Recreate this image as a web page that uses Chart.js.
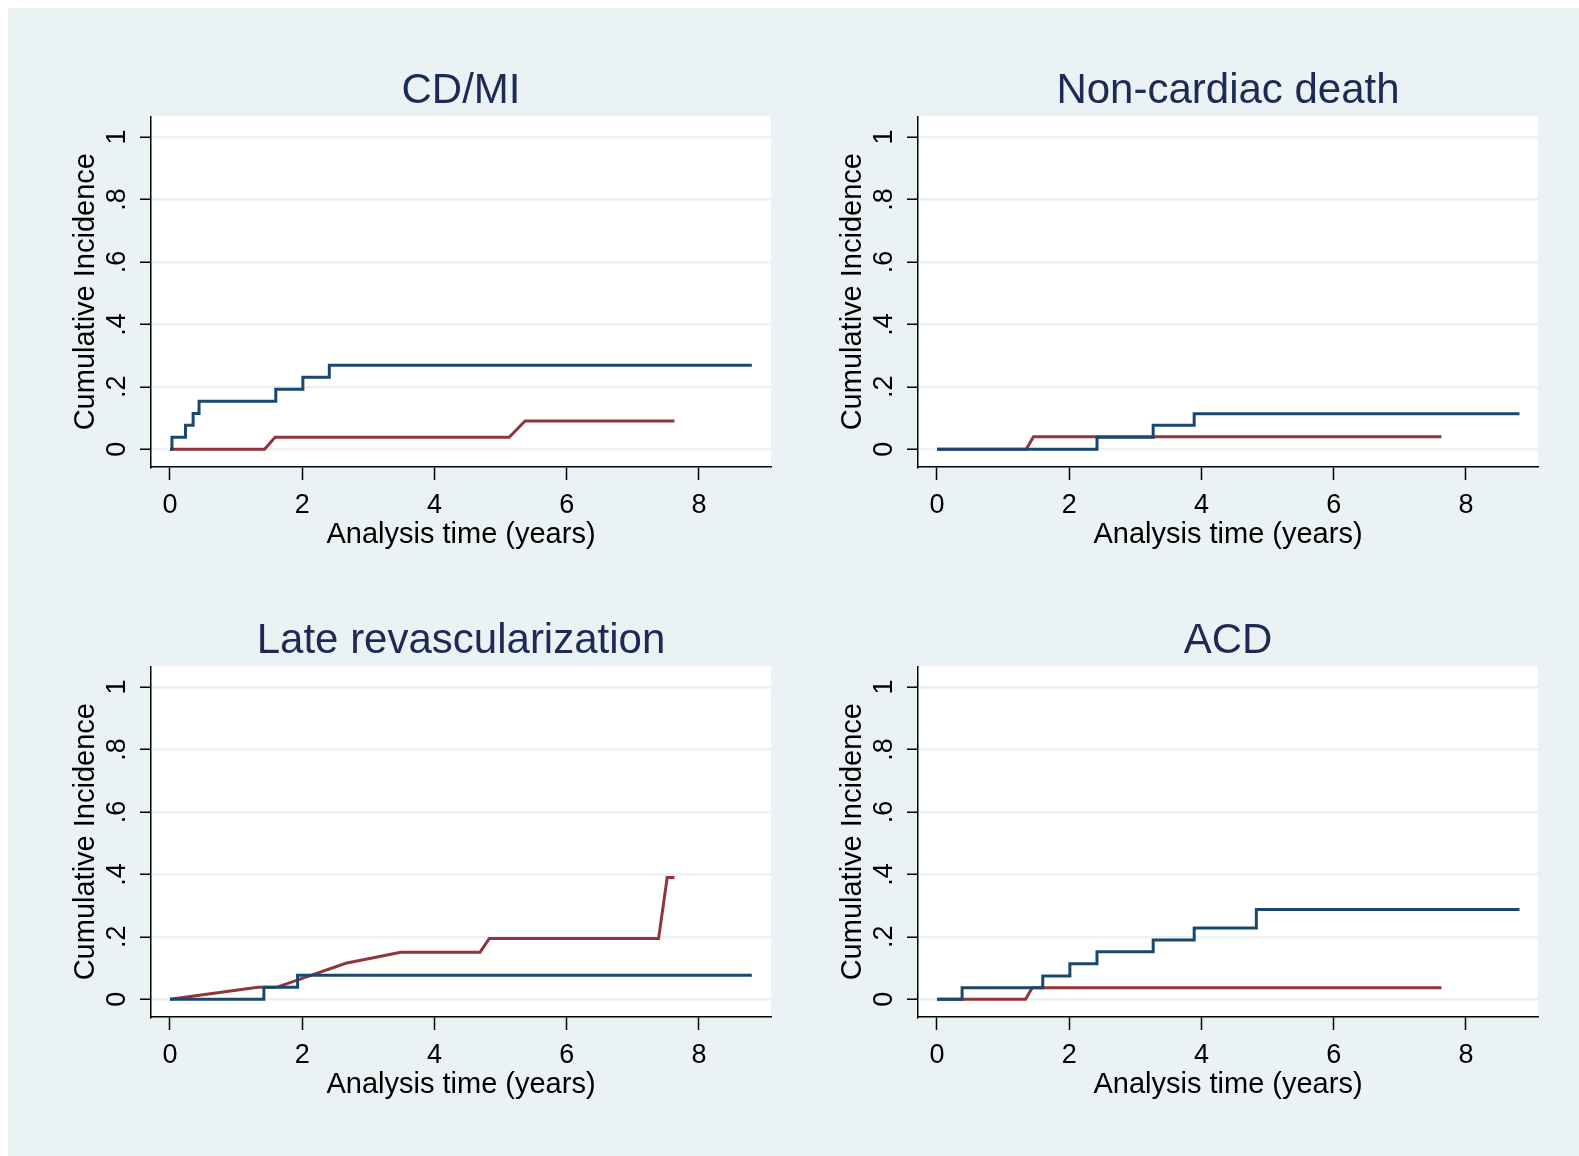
<!DOCTYPE html>
<html>
<head>
<meta charset="utf-8">
<script src="https://cdn.jsdelivr.net/npm/chart.js@4.4.1/dist/chart.umd.min.js"></script>
<style>
  html, body { margin: 0; padding: 0; background: #ffffff; }
  #page { position: absolute; left: 8px; top: 8px; width: 1571px; height: 1148px; background: #eaf2f3; }
  canvas { position: absolute; }
</style>
</head>
<body>
<div id="page"></div>
<canvas id="c1" width="780" height="552" style="left:0px;top:0px"></canvas>
<canvas id="c2" width="780" height="552" style="left:767px;top:0px"></canvas>
<canvas id="c3" width="780" height="552" style="left:0px;top:550px"></canvas>
<canvas id="c4" width="780" height="552" style="left:767px;top:550px"></canvas>
<script>
// panel titles
const titles = ["CD/MI", "Non-cardiac death", "Late revascularization", "ACD"];

// axis ticks
const xTicks = [0, 2, 4, 6, 8];
const yTicks = [0, 0.2, 0.4, 0.6, 0.8, 1];
const yTickLabels = ["0", ".2", ".4", ".6", ".8", "1"];

// blue curves (stepped): time in years, cumulative incidence
const blueT = [
  [0, 0.03, 0.235, 0.35, 0.44, 1.60, 2.01, 2.41, 8.80],
  [0, 2.42, 3.27, 3.89, 8.81],
  [0, 1.42, 1.93, 8.80],
  [0, 0.38, 1.60, 2.01, 2.42, 3.27, 3.89, 4.83, 8.81]
];
const blueY = [
  [0, 0.0385, 0.077, 0.115, 0.154, 0.192, 0.231, 0.269, 0.269],
  [0, 0.039, 0.077, 0.114, 0.114],
  [0, 0.0385, 0.077, 0.077],
  [0, 0.037, 0.075, 0.114, 0.152, 0.190, 0.228, 0.288, 0.288]
];

// red curves (joined)
const redT = [
  [0, 1.43, 1.59, 5.13, 5.37, 7.63],
  [0, 1.35, 1.46, 7.63],
  [0, 1.33, 1.61, 2.66, 3.49, 4.69, 4.83, 7.39, 7.52, 7.63],
  [0, 1.34, 1.44, 7.63]
];
const redY = [
  [0, 0, 0.0385, 0.0385, 0.091, 0.091],
  [0, 0, 0.040, 0.040],
  [0, 0.0385, 0.0385, 0.1155, 0.151, 0.151, 0.195, 0.195, 0.39, 0.39],
  [0, 0, 0.037, 0.037]
];

const FONT = "'Liberation Sans', Arial, Helvetica, sans-serif";
const blue = "#1a476f";
const red = "#90353b";
const bg = "#eaf2f3";

const plotBg = {
  id: "plotBg",
  beforeDraw(chart) {
    const a = chart.chartArea;
    const ctx = chart.ctx;
    ctx.save();
    ctx.fillStyle = "#ffffff";
    ctx.fillRect(a.left, a.top, a.right - a.left, a.bottom - a.top);
    ctx.restore();
  }
};

// stata style vertical tick labels on the y axis
const yLabels = {
  id: "yLabels",
  afterDraw(chart) {
    const s = chart.scales.y;
    const ctx = chart.ctx;
    ctx.save();
    ctx.font = "27px " + FONT;
    ctx.fillStyle = "#000";
    ctx.textAlign = "center";
    ctx.textBaseline = "middle";
    yTicks.forEach((v, i) => {
      const py = s.getPixelForValue(v);
      ctx.save();
      ctx.translate(118, py);
      ctx.rotate(-Math.PI / 2);
      ctx.fillText(yTickLabels[i], 0, 0);
      ctx.restore();
    });
    ctx.restore();
  }
};

const makePts = (ts, ys) => ts.map((t, i) => ({ x: t, y: ys[i] }));

for (let p = 0; p < 4; p++) {
  new Chart(document.getElementById("c" + (p + 1)), {
    type: "line",
    data: {
      datasets: [
        {
          data: makePts(blueT[p], blueY[p]),
          borderColor: blue,
          borderWidth: 3,
          stepped: "before",
          pointRadius: 0,
          fill: false
        },
        {
          data: makePts(redT[p], redY[p]),
          borderColor: red,
          borderWidth: 3,
          tension: 0,
          pointRadius: 0,
          fill: false
        }
      ]
    },
    options: {
      responsive: false,
      animation: false,
      devicePixelRatio: 1,
      layout: { padding: { top: 66, right: 9, left: 0, bottom: 0 } },
      plugins: {
        legend: { display: false },
        tooltip: { enabled: false },
        title: {
          display: true,
          text: titles[p],
          fullSize: false,
          color: "#1c2b55",
          font: { family: FONT, size: 42, weight: "normal" },
          padding: { top: 0, bottom: 0 }
        }
      },
      scales: {
        x: {
          type: "linear",
          min: -0.287,
          max: 9.09,
          afterBuildTicks: (s) => { s.ticks = xTicks.map(v => ({ value: v })); },
          afterFit: (s) => { s.height = 85; },
          grid: {
            drawOnChartArea: false,
            drawTicks: true,
            tickLength: 13,
            tickColor: "#000",
            tickWidth: 1.5
          },
          border: { display: true, color: "#000", width: 1.5 },
          ticks: {
            color: "#000",
            padding: 9,
            maxRotation: 0,
            font: { family: FONT, size: 27 }
          },
          title: {
            display: true,
            text: "Analysis time (years)",
            color: "#000",
            font: { family: FONT, size: 29 },
            padding: { top: 0, bottom: 0 }
          }
        },
        y: {
          type: "linear",
          min: -0.0566,
          max: 1.066,
          afterBuildTicks: (s) => { s.ticks = yTicks.map(v => ({ value: v })); },
          afterFit: (s) => { s.width = 151; },
          grid: {
            color: bg,
            lineWidth: 2.5,
            drawTicks: true,
            tickLength: 11,
            tickColor: "#000",
            tickWidth: 1.5
          },
          border: { display: true, color: "#000", width: 1.5 },
          ticks: { display: false },
          title: {
            display: true,
            text: "Cumulative Incidence",
            color: "#000",
            font: { family: FONT, size: 29 },
            padding: { top: 69, bottom: 0 }
          }
        }
      }
    },
    plugins: [plotBg, yLabels]
  });
}
</script>
</body>
</html>
